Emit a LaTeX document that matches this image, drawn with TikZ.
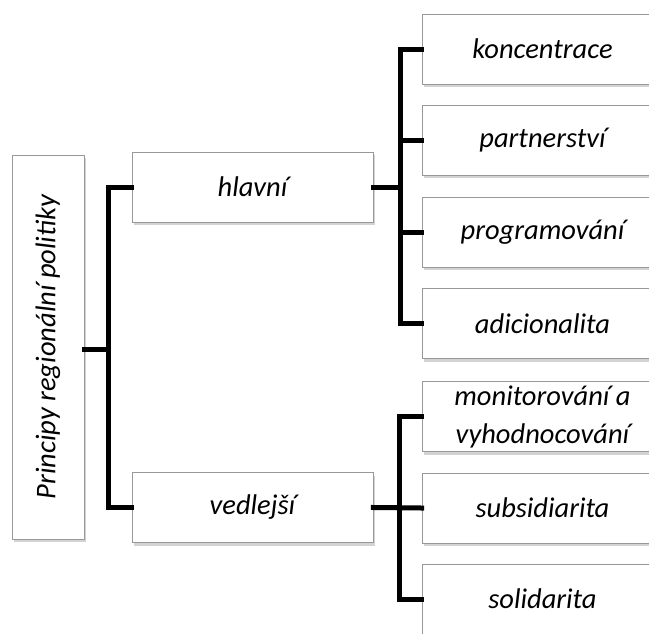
\documentclass[tikz,border=0pt]{standalone}
\usepackage{fontspec}
\setmainfont{Carlito}
\usetikzlibrary{shadows}

\begin{document}
\begin{tikzpicture}[x=1pt,y=-1pt,
    box/.style={draw=black!40,fill=white,line width=0.8pt,inner sep=0pt,
      minimum width=241pt,minimum height=70pt,align=center,
      font=\fontsize{28.5}{38}\selectfont\itshape,
      drop shadow={opacity=0.35,shadow xshift=1.5pt,shadow yshift=-3pt}},
    conn/.style={line width=5pt,line cap=rect,line join=miter}]
  \useasboundingbox (0,0) rectangle (649,633);
  % root
  \node[box,minimum width=72pt,minimum height=384pt] (root) at (48,347)
    {\rotatebox{90}{Principy regionální politiky}};
  % second level
  \node[box] (hlavni) at (252.5,187) {hlavní};
  \node[box] (vedlejsi) at (252.5,507.5) {vedlejší};
  % third level
  \node[box] (koncentrace) at (542.5,49) {koncentrace};
  \node[box] (partnerstvi) at (542.5,140) {partnerství};
  \node[box] (programovani) at (542.5,232) {programování};
  \node[box] (adicionalita) at (542.5,323.5) {adicionalita};
  \node[box] (monitorovani) at (542.5,416.5) {monitorování a\\vyhodnocování};
  \node[box] (subsidiarita) at (542.5,508) {subsidiarita};
  \node[box] (solidarita) at (542.5,599) {solidarita};
  % buses
  \coordinate (busA) at (108,349);
  \coordinate (busB) at (400,187);
  \coordinate (busC) at (399,508);
  \draw[conn] (root.east |- busA) -- (busA);
  \draw[conn] (hlavni.west) -| (busA) |- (vedlejsi.west);
  \draw[conn] (hlavni.east) -- (busB);
  \draw[conn] (koncentrace.west) -| (busB |- adicionalita.west) -- (adicionalita.west);
  \foreach \n in {partnerstvi,programovani}
    \draw[conn] (busB |- \n.west) -- (\n.west);
  \draw[conn] (vedlejsi.east) -- (subsidiarita.west);
  \draw[conn] (monitorovani.west) -| (busC |- solidarita.west) -- (solidarita.west);
\end{tikzpicture}
\end{document}
